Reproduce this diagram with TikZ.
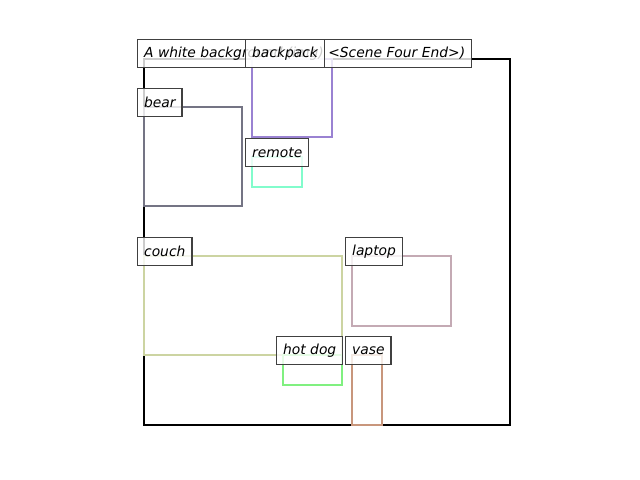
\documentclass[tikz,border=0pt]{standalone}
\usepackage{fontspec}
\setmainfont{DejaVu Sans}
\begin{document}
\begin{tikzpicture}[x=1bp,y=-1bp,
  lab/.style={draw=black!75, line width=1.3bp, fill=white, fill opacity=0.8, text opacity=1,
    anchor=south west, minimum height=28bp, inner xsep=6.5bp, inner ysep=0bp,
    font=\fontsize{13.9}{16}\selectfont\itshape},
  obj/.style={line width=2.8bp},
  frame/.style={line width=2.6bp, draw=black}]
\useasboundingbox (0,0) rectangle (640,480);
\definecolor{cbear}{HTML}{747484}
\definecolor{cback}{HTML}{9A82D2}
\definecolor{crem}{HTML}{82FCCC}
\definecolor{ccouch}{HTML}{CCD4A2}
\definecolor{clap}{HTML}{C4AAB4}
\definecolor{chot}{HTML}{80F080}
\definecolor{cvase}{HTML}{C8967C}
\draw[frame] (144,59) rectangle (510,425);
\draw[obj, draw=cbear] (144,107) rectangle (242,206);
\draw[obj, draw=cback] (252,59) rectangle (332,137);
\draw[obj, draw=crem] (252,157) rectangle (302,187);
\draw[obj, draw=ccouch] (144,256) rectangle (342,355);
\draw[obj, draw=clap] (352,256) rectangle (451,326);
\draw[obj, draw=chot] (283,355) rectangle (342,385);
\draw[obj, draw=cvase] (352,355) rectangle (382,425);
\node[lab] (title) at (137,68) {A white background (img) <Scene Four End>)};
\node[lab] (bear) at (137,117) {bear};
\node[lab] (backpack) at (245,68) {backpack};
\node[lab] (remote) at (245,167) {remote};
\node[lab] (couch) at (137,266) {couch};
\node[lab] (laptop) at (345,266) {laptop};
\node[lab] (hotdog) at (276,365) {hot dog};
\node[lab] (vase) at (345,365) {vase};
\end{tikzpicture}
\end{document}
